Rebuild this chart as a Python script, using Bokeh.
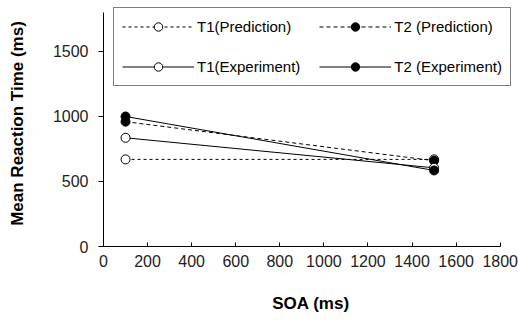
from bokeh.plotting import figure
from bokeh.models import Range1d, Legend, LegendItem, FixedTicker
from bokeh.embed import file_html
from bokeh.resources import INLINE

soa = [100, 1500]
t1_pred = [670, 670]
t2_pred = [960, 660]
t1_exp = [836, 605]
t2_exp = [1000, 585]
x_ticks = [0, 200, 400, 600, 800, 1000, 1200, 1400, 1600, 1800]
y_ticks = [0, 500, 1000, 1500]

p = figure(width=518, height=318, output_backend="svg", toolbar_location=None,
           x_range=Range1d(0, 1883), y_range=Range1d(0, 1892),
           min_border_left=103, min_border_right=0, min_border_top=0, min_border_bottom=72)
p.outline_line_color = None
p.grid.visible = False

FONT = "Liberation Sans"

def series(ys, dash, filled):
    r_line = p.line(soa, ys, line_color="black", line_width=1, line_dash=dash)
    r_pts = p.scatter(soa, ys, size=9, marker="circle", line_color="black", line_width=1,
                      fill_color="black" if filled else "white")
    return [r_line, r_pts]

r1 = series(t1_pred, "3 3", False)
r2 = series(t2_pred, "4 3", True)
r3 = series(t1_exp, "solid", False)
r4 = series(t2_exp, "solid", True)

legend = Legend(items=[
    LegendItem(label="T1(Prediction)", renderers=r1),
    LegendItem(label="T1(Experiment)", renderers=r3),
    LegendItem(label="T2 (Prediction)", renderers=r2),
    LegendItem(label="T2 (Experiment)", renderers=r4),
], location=(10, 160), ncols=2)
legend.border_line_color = "black"
legend.border_line_width = 1
legend.background_fill_alpha = 1
legend.label_text_font = FONT
legend.label_text_font_size = "15px"
legend.label_text_color = "black"
legend.glyph_width = 72
legend.glyph_height = 21
legend.label_height = 21
legend.label_standoff = 3
legend.spacing = 19
legend.padding = 8
legend.margin = 0
p.add_layout(legend, "center")

xa = p.xaxis[0]
ya = p.yaxis[0]
xa.bounds = (0, 1800)
ya.bounds = (0, 1800)
xa.ticker = FixedTicker(ticks=x_ticks)
ya.ticker = FixedTicker(ticks=y_ticks)
xa.minor_tick_line_color = None
ya.minor_tick_line_color = None
xa.major_tick_in = 4
xa.major_tick_out = 0
ya.major_tick_in = 0
ya.major_tick_out = 5
for ax in (xa, ya):
    ax.axis_line_color = "black"
    ax.major_tick_line_color = "black"
    ax.major_label_text_font = FONT
    ax.major_label_text_font_size = "16px"
    ax.major_label_text_color = "#222222"
    ax.axis_label_text_font = FONT
    ax.axis_label_text_font_size = "17px"
    ax.axis_label_text_font_style = "bold"
    ax.axis_label_text_color = "black"
xa.major_label_standoff = 8
ya.major_label_standoff = 10
xa.axis_label = "SOA (ms)"
ya.axis_label = "Mean Reaction Time (ms)"
xa.axis_label_standoff = 24
ya.axis_label_standoff = 23

open("out.html", "w").write(file_html(p, INLINE))
